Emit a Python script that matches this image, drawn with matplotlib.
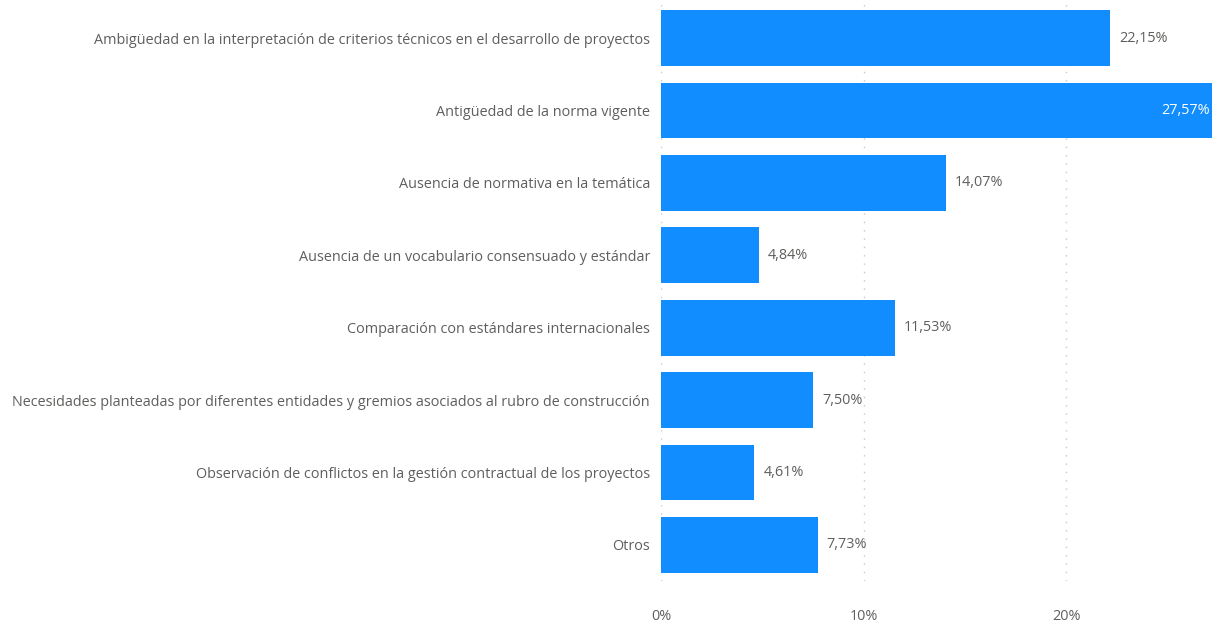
import matplotlib.pyplot as plt

# data
categories = [
    "Ambigüedad en la interpretación de criterios técnicos en el desarrollo de proyectos",
    "Antigüedad de la norma vigente",
    "Ausencia de normativa en la temática",
    "Ausencia de un vocabulario consensuado y estándar",
    "Comparación con estándares internacionales",
    "Necesidades planteadas por diferentes entidades y gremios asociados al rubro de construcción",
    "Observación de conflictos en la gestión contractual de los proyectos",
    "Otros",
]
values = [22.15, 27.57, 14.07, 4.84, 11.53, 7.50, 4.61, 7.73]
x_ticks = [0, 10, 20]

BAR_COLOR = "#118DFF"
TEXT_COLOR = "#605E5C"
X_MAX = 27.2
FS = 10.4

plt.rcParams["font.family"] = ["Open Sans", "DejaVu Sans"]

fig = plt.figure(figsize=(12.12, 6.28), dpi=100)
ax = fig.add_axes([0.5454, 0.0748, 0.4546, 0.922])

ypos = list(range(len(categories)))
ax.barh(ypos, values, height=0.77, color=BAR_COLOR, zorder=2)

for y, v in zip(ypos, values):
    label = f"{v:.2f}%".replace(".", ",")
    if v > X_MAX - 2:
        ax.text(X_MAX - 0.12, y, label, va="center", ha="right",
                color="white", fontsize=FS, zorder=3)
    else:
        ax.text(v + 0.45, y, label, va="center", ha="left",
                color=TEXT_COLOR, fontsize=FS, zorder=3)

ax.set_xlim(0, X_MAX)
ax.set_ylim(len(categories) - 0.5, -0.5)
ax.set_yticks(ypos)
ax.set_yticklabels(categories, fontsize=FS, color=TEXT_COLOR)
ax.set_xticks(x_ticks)
ax.set_xticklabels([f"{t}%" for t in x_ticks], fontsize=FS, color=TEXT_COLOR)
ax.tick_params(axis="y", length=0, pad=8)
ax.tick_params(axis="x", length=0, pad=20)

ax.grid(axis="x", color="#C8C8C8", linestyle=(0, (1, 5)), linewidth=1, zorder=1)
ax.set_axisbelow(True)
for s in ax.spines.values():
    s.set_visible(False)

fig.savefig("out.png", dpi=100)
